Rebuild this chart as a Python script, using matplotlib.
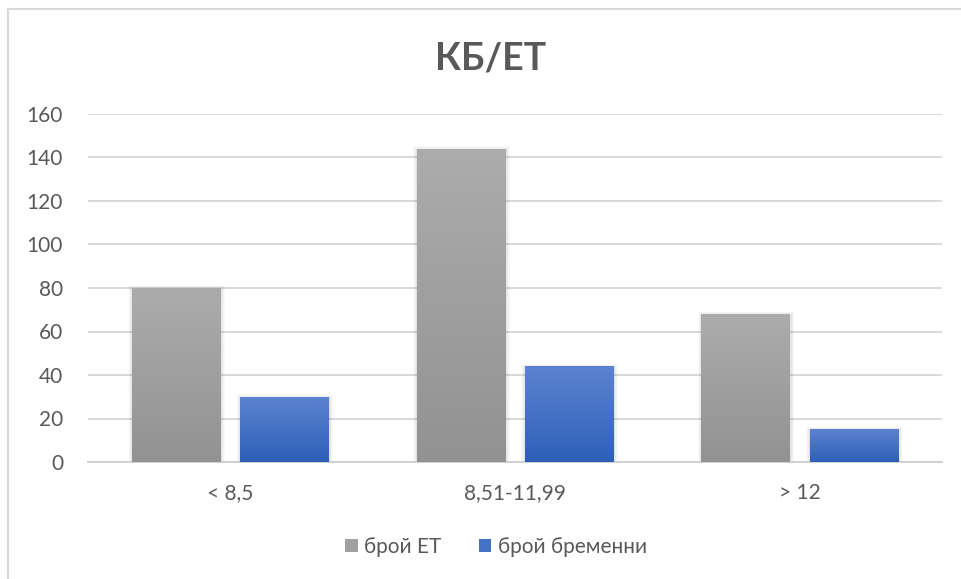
import numpy as np
import matplotlib.pyplot as plt
from matplotlib.patches import Rectangle
from matplotlib.colors import LinearSegmentedColormap

# data
categories = ["< 8,5", "8,51-11,99", "> 12"]
series_names = ["брой ЕТ", "брой бременни"]
et_counts = [80, 144, 68]
pregnant_counts = [30, 44, 15]

plt.rcParams['font.family'] = ['Lato', 'DejaVu Sans']

fig = plt.figure(figsize=(9.61, 5.79), dpi=100)
ax = fig.add_axes([88 / 961, 1 - 462 / 579, 854 / 961, 348 / 579])

# chart border (Excel chart area)
fig.patches.append(Rectangle((8 / 961, -0.05), 1.1, 1 - 9 / 579 + 0.05,
                             transform=fig.transFigure, fill=False,
                             edgecolor="#d9d9d9", linewidth=1.5))

gray_cmap = LinearSegmentedColormap.from_list("g", ["#929292", "#acacac"])
blue_cmap = LinearSegmentedColormap.from_list("b", ["#2d5fb9", "#5d83d0"])
grad = np.linspace(0, 1, 256).reshape(-1, 1)

x = np.arange(len(categories))
width = 0.31
offset = 0.19

px_x = 3 / 854
px_y = 160 / 348


def draw_bars(xs, values, cmap, label):
    bars = ax.bar(xs, values, width, color="none", edgecolor="none", zorder=3, label=label)
    for b in bars:
        x0, h = b.get_x(), b.get_height()
        # soft shadow
        for k in range(1, 6):
            ax.add_patch(Rectangle((x0 - k * px_x * 0.8 + 0.5 * px_x, -k * px_y * 0.8),
                                   width + 2 * k * px_x * 0.8, h + 2 * k * px_y * 0.8 - 1.5 * px_y,
                                   facecolor="black", edgecolor="none", alpha=0.025, zorder=2))
        im = ax.imshow(grad, cmap=cmap, origin="lower", aspect="auto",
                       extent=(x0, x0 + width, 0, h), zorder=3)
        im.set_clip_path(b)
    return bars


draw_bars(x - offset, et_counts, gray_cmap, series_names[0])
draw_bars(x + offset, pregnant_counts, blue_cmap, series_names[1])

ax.set_xlim(-0.5, 2.5)
ax.set_ylim(0, 160)
ax.set_yticks(range(0, 161, 20))
ax.set_xticks(x)
ax.set_xticklabels(categories)
ax.tick_params(axis="both", length=0, labelsize=15, colors="#595959")
ax.tick_params(axis="x", pad=15)
ax.tick_params(axis="y", pad=18)
ax.grid(axis="y", color="#d9d9d9", linewidth=1.4, zorder=0)
ax.set_axisbelow(True)
for s in ["top", "right", "left"]:
    ax.spines[s].set_visible(False)
ax.spines["bottom"].set_color("#d0d0d0")
ax.spines["bottom"].set_linewidth(1.4)

fig.text(0.510, 1 - 58 / 579, "КБ/ЕТ", ha="center", va="center",
         fontsize=27, fontweight="bold", color="#595959")

handles = [Rectangle((0, 0), 1, 1, facecolor="#a0a0a0"),
           Rectangle((0, 0), 1, 1, facecolor="#4472c4")]
fig.legend(handles, series_names, loc="center", bbox_to_anchor=(496 / 961, 1 - 547 / 579),
           ncol=2, frameon=False, fontsize=15, labelcolor="#595959",
           handlelength=0.6, handleheight=0.6, handletextpad=0.3, columnspacing=1.8)

fig.savefig("out.png", dpi=100)
